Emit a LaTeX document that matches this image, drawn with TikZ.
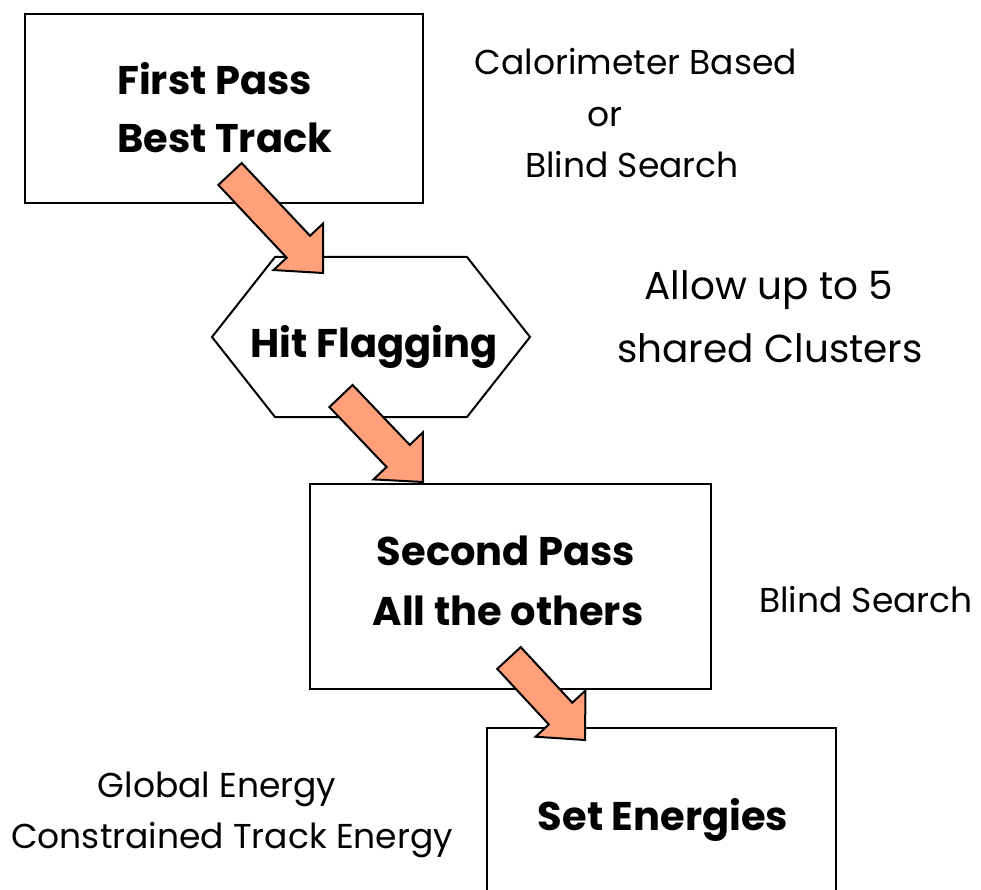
\documentclass[tikz,border=0pt]{standalone}
\usepackage{fontspec}
\setmainfont{Poppins}
\usetikzlibrary{calc}
\definecolor{arrfill}{RGB}{255,160,122}
\tikzset{
  boxline/.style={draw=black, line width=2pt, line join=miter},
  bigtxt/.style={font=\fontsize{40}{48}\selectfont\bfseries, anchor=base, inner sep=0pt},
  smalltxt/.style={font=\fontsize{34.5}{40}\selectfont, anchor=base, inner sep=0pt},
  midtxt/.style={font=\fontsize{39}{46}\selectfont, anchor=base, inner sep=0pt},
  barrow/.style={draw=black, line width=2pt, fill=arrfill, line join=miter},
}
\newcommand\blockarr[3]{%
  \coordinate (#1h) at ($(#3)!36pt!(#2)$);
  \draw[barrow] ($(#2)!16pt!90:(#3)$) -- ($(#1h)!16pt!90:(#3)$) -- ($(#1h)!34pt!90:(#3)$)
     -- (#3) -- ($(#1h)!34pt!-90:(#3)$) -- ($(#1h)!16pt!-90:(#3)$) -- ($(#2)!16pt!-90:(#3)$) -- cycle;
}
\begin{document}
\begin{tikzpicture}[x=1pt, y=-1pt]
\clip (0,0) rectangle (981,890);
\fill[white] (0,0) rectangle (981,890);
% boxes
\draw[boxline] (25,14) rectangle (423,203);
\coordinate (b1) at (224,108);
\draw[boxline] (212,337) -- (275,257) -- (467,257) -- (530,337) -- (467,417) -- (275,417) -- cycle;
\coordinate (hx) at (371,337);
\draw[boxline] (310,484) rectangle (711,689);
\coordinate (b2) at (510,586);
\draw[boxline] (487,910) -- (487,728) -- (836,728) -- (836,910);
\coordinate (b3) at (661,810);
% box texts
\node[bigtxt, anchor=base west] (t1a) at (117,95) {First Pass};
\node[bigtxt, anchor=base west] (t1b) at (117,153) {Best Track};
\node[bigtxt] (t2) at (374,357) {Hit Flagging};
\node[bigtxt] (t3a) at (506,565) {Second Pass};
\node[bigtxt] (t3b) at (508,625) {All the others};
\node[bigtxt] (t4) at (663,830) {Set Energies};
% side texts
\node[smalltxt] (s1a) at (636,75) {Calorimeter Based};
\node[smalltxt] (s1b) at (605,127) {or};
\node[smalltxt] (s1c) at (632,178) {Blind Search};
\node[midtxt] (s2a) at (769,299) {Allow up to 5};
\node[midtxt] (s2b) at (770,362) {shared Clusters};
\node[smalltxt] (s3) at (866,612) {Blind Search};
\node[smalltxt] (s4a) at (217,797) {Global Energy};
\node[smalltxt] (s4b) at (232,848) {Constrained Track Energy};
% arrows
\coordinate (a1t) at (230,174); \coordinate (a1p) at (323,273);
\coordinate (a2t) at (341,396); \coordinate (a2p) at (423,482);
\coordinate (a3t) at (509,658); \coordinate (a3p) at (585,740);
\blockarr{a1}{a1t}{a1p}
\blockarr{a2}{a2t}{a2p}
\blockarr{a3}{a3t}{a3p}
\end{tikzpicture}
\end{document}
